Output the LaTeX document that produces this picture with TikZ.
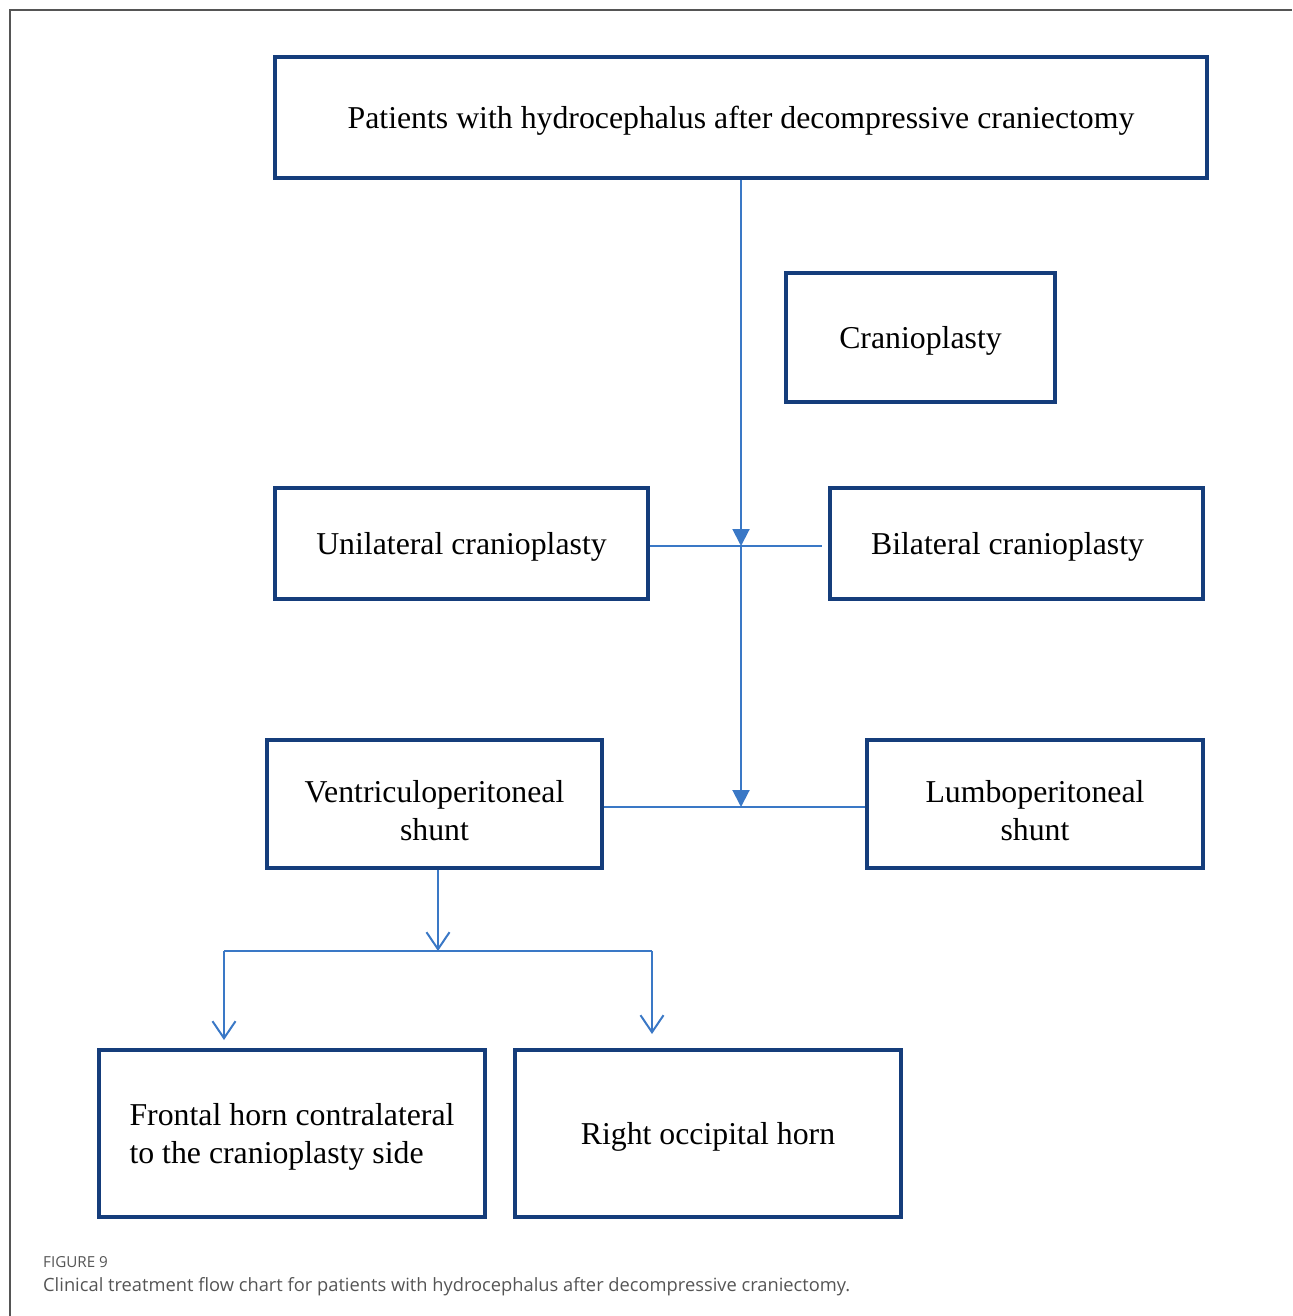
\documentclass[tikz,border=0pt]{standalone}
\usepackage{fontspec}
\setmainfont{Liberation Serif}
\newfontfamily\capfont{Open Sans}
\usetikzlibrary{arrows.meta,calc}
\definecolor{boxblue}{HTML}{153D7B}
\definecolor{linkblue}{HTML}{3A78C6}
\definecolor{framegray}{HTML}{555555}
\definecolor{capgray}{HTML}{555555}
\newcommand{\lowstrut}{\rule{0pt}{34pt}}
\begin{document}
\begin{tikzpicture}[x=1pt,y=-1pt,
  stepbox/.style={draw=boxblue,line width=4pt,inner sep=0pt,align=center,
    text depth=-2pt,font=\fontsize{31.8}{38}\selectfont},
  link/.style={draw=linkblue,line width=2pt},
  arrF/.style={link,-{Triangle[width=17pt,length=17pt]}},
  arrO/.style={link,-{Straight Barb[width=23pt,length=17pt,line width=2pt]}}]
\useasboundingbox (0,0) rectangle (1292,1316);
\draw[framegray,line width=1.5pt] (10,1316) -- (10,10) -- (1292,10);
\node[stepbox,minimum width=932pt,minimum height=121pt] (top) at (741,117.5) {Patients with hydrocephalus after decompressive craniectomy};
\node[stepbox,minimum width=269pt,minimum height=129pt] (cran) at (920.5,337.5) {Cranioplasty};
\node[stepbox,minimum width=373pt,minimum height=111pt] (uni) at (461.5,543.5) {Unilateral cranioplasty};
\node[stepbox,minimum width=373pt,minimum height=111pt] (bil) at (1016.5,543.5) {\hspace*{-18pt}Bilateral cranioplasty};
\node[stepbox,minimum width=335pt,minimum height=128pt] (vp) at (434.5,804) {\lowstrut Ventriculoperitoneal\\shunt};
\node[stepbox,minimum width=336pt,minimum height=128pt] (lp) at (1035,804) {\lowstrut Lumboperitoneal\\shunt};
\node[stepbox,minimum width=386pt,minimum height=167pt,align=left] (fh) at (292,1133.5) {Frontal horn contralateral\\to the cranioplasty side};
\node[stepbox,minimum width=386pt,minimum height=167pt] (ro) at (708,1133.5) {Right occipital horn};
\coordinate (j1) at (741,546);
\coordinate (j2) at (741,807);
\coordinate (j3) at (438,951);
\coordinate (j3l) at (224,951);
\coordinate (j3r) at (652,951);
\draw[arrF] (top.south) -- (j1);
\draw[link,shorten >=6pt] (uni.east |- j1) -- (bil.west |- j1);
\draw[arrF] (j1) -- (j2);
\draw[link] (vp.east |- j2) -- (lp.west |- j2);
\draw[arrO] (j3 |- vp.south) -- (j3);
\draw[link] (j3l) -- (j3r);
\draw[arrO,shorten >=8pt] (j3l) -- (j3l |- fh.north);
\draw[arrO,shorten >=14pt] (j3r) -- (j3r |- ro.north);
\node[anchor=base west,inner sep=0pt,text=capgray,font=\capfont\fontsize{15.2}{18}\selectfont] (fig) at (43,1267) {FIGURE 9};
\node[anchor=base west,inner sep=0pt,text=capgray,font=\capfont\fontsize{18.3}{22}\selectfont] (cap) at (43,1291) {Clinical treatment flow chart for patients with hydrocephalus after decompressive craniectomy.};
\end{tikzpicture}
\end{document}
